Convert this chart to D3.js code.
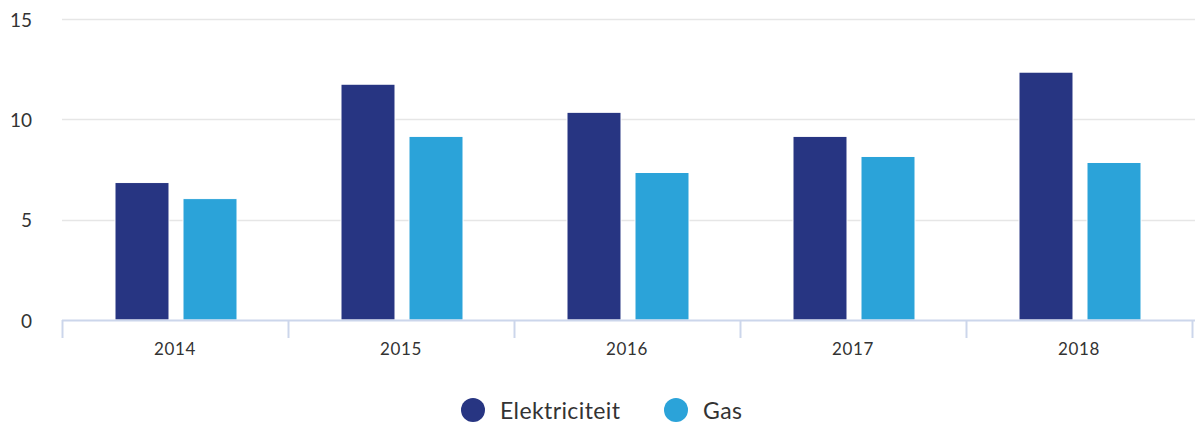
<!DOCTYPE html>
<html><head><meta charset="utf-8">
<script src="https://cdn.jsdelivr.net/npm/d3@7"></script>
<style>body{margin:0;background:#fff}svg{display:block;font-family:Lato,"Open Sans",sans-serif}</style>
</head><body><svg id="c" width="1195" height="423"></svg>
<script>
const categories = ["2014","2015","2016","2017","2018"];
const seriesNames = ["Elektriciteit","Gas"];
const elektriciteit = [6.85, 11.75, 10.35, 9.15, 12.35];
const gas = [6.05, 9.15, 7.35, 8.15, 7.85];
const yTicks = [0,5,10,15];
const colors = ["#273582","#2ba3d9"];

const svg = d3.select("#c");
const x = d3.scaleBand().domain(categories).range([62,1192]).padding(0);
const x1 = d3.scaleBand().domain(seriesNames).range([53,175]).paddingInner(0.206).paddingOuter(0);
const y = d3.scaleLinear().domain([0,15]).range([320,19]);

// grid
svg.append("g").selectAll("line").data(yTicks.filter(d=>d>0)).join("line")
  .attr("x1",62).attr("x2",1195).attr("y1",d=>Math.round(y(d))+0.5).attr("y2",d=>Math.round(y(d))+0.5)
  .attr("stroke","#e6e6e6").attr("stroke-width",1.5);

// y labels
svg.append("g").selectAll("text").data(yTicks).join("text")
  .attr("x",32).attr("y",d=>y(d)+7.5).attr("text-anchor","end")
  .attr("font-size",19).attr("fill","#333").text(d=>d);

// bars
const data = categories.map((c,i)=>({c, vals:[elektriciteit[i], gas[i]]}));
const g = svg.append("g");
data.forEach(d=>{
  d.vals.forEach((v,j)=>{
    g.append("rect")
      .attr("x", x(d.c)+x1(seriesNames[j]))
      .attr("y", y(v))
      .attr("width", x1.bandwidth())
      .attr("height", y(0)-y(v))
      .attr("fill", colors[j])
      .attr("stroke","#fff").attr("stroke-width",1);
  });
});

// x axis
const xa = svg.append("g");
xa.append("line").attr("x1",62).attr("x2",1195).attr("y1",320.5).attr("y2",320.5)
  .attr("stroke","#ccd6eb").attr("stroke-width",2);
const bounds = categories.map(c=>x(c)).concat([x.range()[1]]);
xa.selectAll("line.t").data(bounds).join("line").attr("class","t")
  .attr("x1",d=>d+0.5).attr("x2",d=>d+0.5).attr("y1",320).attr("y2",338)
  .attr("stroke","#ccd6eb").attr("stroke-width",2);
xa.selectAll("text").data(categories).join("text")
  .attr("x",d=>x(d)+x.bandwidth()/2).attr("y",354.5).attr("text-anchor","middle")
  .attr("font-size",17).attr("letter-spacing",0.7).attr("fill","#333").text(d=>d);

// legend
const leg = svg.append("g");
const legX = [473, 676];
seriesNames.forEach((s,i)=>{
  leg.append("circle").attr("cx",legX[i]).attr("cy",410).attr("r",12).attr("fill",colors[i]);
  leg.append("text").attr("x",legX[i]+27).attr("y",418.5).attr("font-size",23).attr("letter-spacing",0.4).attr("fill","#333").text(s);
});
</script></body></html>
